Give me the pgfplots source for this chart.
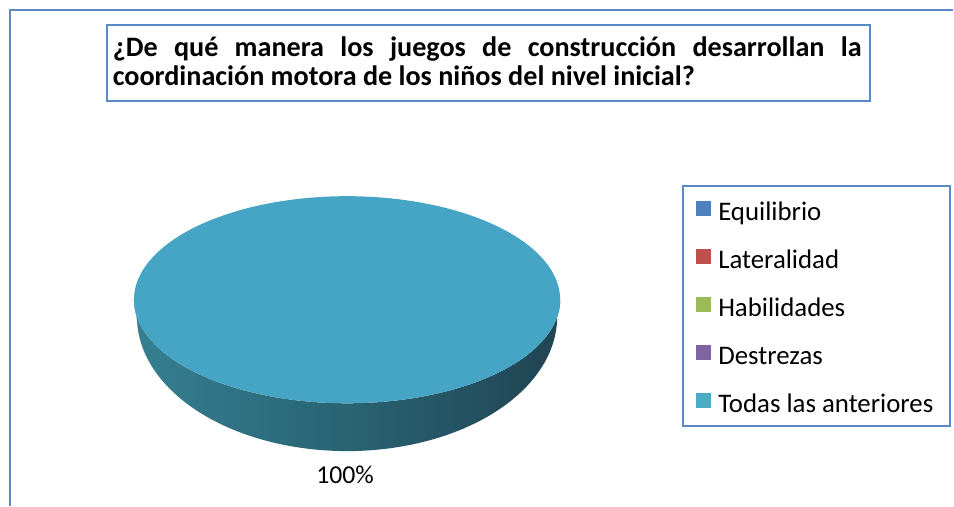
\documentclass[border=0pt]{standalone}
\usepackage{fontspec}
\setmainfont{Carlito}
\usepackage{pgfplots}
\usepackage{pgfplotstable}
\pgfplotsset{compat=1.18}
\definecolor{frameblue}{RGB}{90,138,198}
\definecolor{cEqui}{RGB}{79,129,189}
\definecolor{cLat}{RGB}{192,80,77}
\definecolor{cHab}{RGB}{155,187,89}
\definecolor{cDes}{RGB}{128,100,162}
\definecolor{cTod}{RGB}{75,172,198}
\definecolor{pietop}{RGB}{70,165,196}
\pgfdeclarehorizontalshading{pieside}{100bp}{rgb(0bp)=(0.25,0.59,0.66); rgb(25bp)=(0.21,0.50,0.57); rgb(50bp)=(0.16,0.39,0.45); rgb(72bp)=(0.13,0.28,0.34); rgb(100bp)=(0.12,0.25,0.29)}
\pgfplotstableread[col sep=comma]{
cat,valor
Equilibrio,0
Lateralidad,0
Habilidades,0
Destrezas,0
Todas las anteriores,100
}\datos
\begin{document}
\pgfplotstablegetelem{4}{valor}\of\datos
\pgfmathsetmacro\sweep{3.6*\pgfplotsretval}
\begin{tikzpicture}
\begin{axis}[
  x=0.75pt, y=0.75pt,
  xmin=0, xmax=954, ymin=0, ymax=508,
  y dir=reverse,
  hide axis, clip=false,
  legend style={at={(axis cs:696,199.5)}, anchor=north west, draw=none, fill=none,
    inner sep=0pt, row sep=15.6pt, column sep=5.25pt,
    font=\fontsize{20.2}{21}\selectfont,
    nodes={inner sep=0pt, text height=16.5pt, text depth=4pt}},
  legend cell align=left,
  legend image code/.code={\path[#1, draw=none] (0pt,-2.6pt) rectangle (11.25pt,8.65pt);},
]
\fill[white] (axis cs:0,0) rectangle (axis cs:954,508);
% outer frame
\draw[frameblue, line width=1.5pt] (axis cs:7,508) -- (axis cs:7,10) -- (axis cs:954,10);
% title box
\draw[frameblue, line width=1.5pt] (axis cs:104,25) rectangle (axis cs:871,101);
\node[anchor=base west, inner sep=0pt, font=\fontsize{21.2}{22}\selectfont\bfseries] at (axis cs:110,57)
  {\makebox[564pt][s]{¿De qué manera los juegos de construcción desarrollan la}};
\node[anchor=base west, inner sep=0pt, font=\fontsize{21.2}{22}\selectfont\bfseries] at (axis cs:110,85.7)
  {coordinación motora de los niños del nivel inicial?};
% legend box
\draw[frameblue, line width=1.2pt] (axis cs:683,187) rectangle (axis cs:951,428);
% pie side
\addplot[shade, shading=pieside, draw=none, domain=0:360, samples=181, forget plot]
  ({345.5 + (x<=180)*214*cos(x) + (x>180)*211*cos(360-x)},
   {(x<=180)*(301+104*sin(x)) + (x>180)*(318+135*sin(360-x))}) -- cycle;
% pie top
\addplot[fill=pietop, draw=none, domain=0:\sweep, samples=181, forget plot]
  ({345.5 + 214*cos(x)}, {301 + 104*sin(x)}) -- cycle;
\node[anchor=base, inner sep=0pt, font=\fontsize{19.4}{20}\selectfont] at (axis cs:343.5,485.5) {100\%};
% legend
\addlegendimage{fill=cEqui}
\addlegendentry{Equilibrio}
\addlegendimage{fill=cLat}
\addlegendentry{Lateralidad}
\addlegendimage{fill=cHab}
\addlegendentry{Habilidades}
\addlegendimage{fill=cDes}
\addlegendentry{Destrezas}
\addlegendimage{fill=cTod}
\addlegendentry{Todas las anteriores}
\end{axis}
\end{tikzpicture}
\end{document}
